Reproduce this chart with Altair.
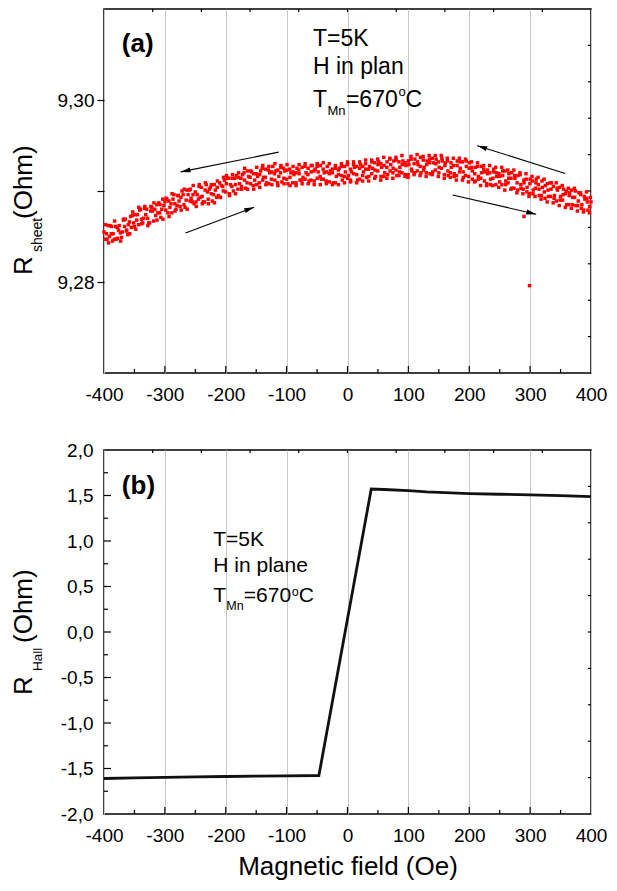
import math
import numpy as np
import pandas as pd
import altair as alt

FONT = "Liberation Sans, Arial, Helvetica, sans-serif"
W, HA, HB = 487, 364, 364
X_DOMAIN = [-400, 400]
YA_DOMAIN = [9.27, 9.31]
YB_DOMAIN = [-2.0, 2.0]

# ---------------- data: panel (a) sheet resistance, four field sweeps ----------------
field_a = np.linspace(-400, 400, 161)
field_b = np.linspace(-398, 398, 161)
field_c = np.linspace(-396, 399, 161)
field_d = np.linspace(-397.5, 397.5, 161)

r_sweep_a = [
    9.2855, 9.2847, 9.2862, 9.2853, 9.2847, 9.2862, 9.2855, 9.2869, 9.2863, 9.2860,
    9.2861, 9.2874, 9.2880, 9.2870, 9.2880, 9.2865, 9.2878, 9.2873, 9.2887, 9.2880,
    9.2888, 9.2876, 9.2886, 9.2896, 9.2884, 9.2883, 9.2896, 9.2890, 9.2901, 9.2888,
    9.2899, 9.2891, 9.2904, 9.2888, 9.2899, 9.2904, 9.2896, 9.2893, 9.2909, 9.2905,
    9.2899, 9.2914, 9.2905, 9.2914, 9.2902, 9.2914, 9.2920, 9.2909, 9.2915, 9.2906,
    9.2919, 9.2909, 9.2925, 9.2915, 9.2923, 9.2913, 9.2919, 9.2909, 9.2920, 9.2925,
    9.2913, 9.2924, 9.2909, 9.2920, 9.2923, 9.2912, 9.2927, 9.2918, 9.2912, 9.2922,
    9.2927, 9.2916, 9.2924, 9.2911, 9.2919, 9.2924, 9.2909, 9.2923, 9.2917, 9.2927,
    9.2914, 9.2924, 9.2929, 9.2918, 9.2913, 9.2927, 9.2924, 9.2916, 9.2932, 9.2923,
    9.2929, 9.2916, 9.2928, 9.2932, 9.2922, 9.2925, 9.2934, 9.2921, 9.2929, 9.2918,
    9.2933, 9.2924, 9.2920, 9.2932, 9.2937, 9.2923, 9.2929, 9.2935, 9.2921, 9.2930,
    9.2920, 9.2936, 9.2928, 9.2922, 9.2931, 9.2916, 9.2928, 9.2932, 9.2921, 9.2933,
    9.2925, 9.2913, 9.2926, 9.2916, 9.2927, 9.2911, 9.2919, 9.2907, 9.2921, 9.2916,
    9.2910, 9.2922, 9.2911, 9.2919, 9.2903, 9.2914, 9.2917, 9.2903, 9.2909, 9.2904,
    9.2913, 9.2901, 9.2913, 9.2895, 9.2904, 9.2906, 9.2894, 9.2909, 9.2895, 9.2901,
    9.2894, 9.2902, 9.2885, 9.2898, 9.2893, 9.2884, 9.2898, 9.2885, 9.2891, 9.2879, 9.2888,
]
r_sweep_b = [
    9.2847, 9.2862, 9.2853, 9.2847, 9.2860, 9.2854, 9.2869, 9.2856, 9.2866, 9.2873,
    9.2874, 9.2863, 9.2869, 9.2881, 9.2870, 9.2878, 9.2867, 9.2885, 9.2876, 9.2891,
    9.2879, 9.2889, 9.2876, 9.2886, 9.2895, 9.2893, 9.2885, 9.2901, 9.2889, 9.2896,
    9.2888, 9.2905, 9.2894, 9.2901, 9.2891, 9.2897, 9.2907, 9.2904, 9.2893, 9.2900,
    9.2908, 9.2897, 9.2914, 9.2907, 9.2915, 9.2905, 9.2912, 9.2922, 9.2908, 9.2919,
    9.2907, 9.2918, 9.2912, 9.2924, 9.2908, 9.2921, 9.2912, 9.2923, 9.2926, 9.2914,
    9.2923, 9.2915, 9.2921, 9.2909, 9.2919, 9.2926, 9.2913, 9.2925, 9.2921, 9.2911,
    9.2914, 9.2928, 9.2913, 9.2921, 9.2910, 9.2920, 9.2925, 9.2918, 9.2927, 9.2916,
    9.2929, 9.2912, 9.2919, 9.2927, 9.2925, 9.2917, 9.2930, 9.2924, 9.2919, 9.2931,
    9.2922, 9.2930, 9.2916, 9.2926, 9.2935, 9.2920, 9.2923, 9.2932, 9.2920, 9.2931,
    9.2918, 9.2935, 9.2930, 9.2922, 9.2927, 9.2934, 9.2920, 9.2931, 9.2936, 9.2923,
    9.2932, 9.2925, 9.2918, 9.2933, 9.2920, 9.2928, 9.2917, 9.2921, 9.2932, 9.2917,
    9.2916, 9.2926, 9.2919, 9.2927, 9.2914, 9.2924, 9.2908, 9.2920, 9.2914, 9.2907,
    9.2919, 9.2907, 9.2922, 9.2909, 9.2914, 9.2903, 9.2909, 9.2918, 9.2902, 9.2913,
    9.2897, 9.2911, 9.2903, 9.2907, 9.2895, 9.2899, 9.2908, 9.2894, 9.2905, 9.2889,
    9.2904, 9.2890, 9.2897, 9.2885, 9.2901, 9.2893, 9.2884, 9.2896, 9.2879, 9.2892, 9.2883,
]
r_sweep_c = [
    9.2853, 9.2850, 9.2845, 9.2861, 9.2857, 9.2849, 9.2861, 9.2852, 9.2872, 9.2865,
    9.2868, 9.2879, 9.2865, 9.2874, 9.2865, 9.2882, 9.2880, 9.2876, 9.2871, 9.2884,
    9.2891, 9.2882, 9.2891, 9.2880, 9.2889, 9.2900, 9.2882, 9.2896, 9.2892, 9.2886,
    9.2896, 9.2893, 9.2888, 9.2907, 9.2902, 9.2889, 9.2901, 9.2895, 9.2906, 9.2912,
    9.2914, 9.2907, 9.2900, 9.2917, 9.2908, 9.2918, 9.2903, 9.2916, 9.2921, 9.2912,
    9.2916, 9.2922, 9.2915, 9.2909, 9.2920, 9.2927, 9.2922, 9.2916, 9.2910, 9.2922,
    9.2908, 9.2920, 9.2918, 9.2925, 9.2912, 9.2915, 9.2920, 9.2911, 9.2928, 9.2924,
    9.2921, 9.2913, 9.2920, 9.2927, 9.2922, 9.2909, 9.2916, 9.2925, 9.2912, 9.2921,
    9.2917, 9.2921, 9.2926, 9.2912, 9.2929, 9.2921, 9.2915, 9.2927, 9.2925, 9.2916,
    9.2932, 9.2926, 9.2920, 9.2918, 9.2929, 9.2933, 9.2917, 9.2926, 9.2933, 9.2928,
    9.2929, 9.2922, 9.2935, 9.2929, 9.2920, 9.2926, 9.2933, 9.2919, 9.2931, 9.2935,
    9.2926, 9.2933, 9.2931, 9.2917, 9.2926, 9.2919, 9.2933, 9.2925, 9.2915, 9.2927,
    9.2931, 9.2922, 9.2911, 9.2913, 9.2920, 9.2921, 9.2923, 9.2913, 9.2924, 9.2920,
    9.2916, 9.2917, 9.2907, 9.2914, 9.2920, 9.2917, 9.2901, 9.2907, 9.2912, 9.2899,
    9.2908, 9.2897, 9.2909, 9.2902, 9.2911, 9.2892, 9.2901, 9.2902, 9.2892, 9.2903,
    9.2890, 9.2896, 9.2900, 9.2895, 9.2885, 9.2900, 9.2889, 9.2881, 9.2894, 9.2888, 9.2893,
]
r_sweep_d = [
    9.2863, 9.2843, 9.2861, 9.2867, 9.2848, 9.2845, 9.2868, 9.2857, 9.2853, 9.2877,
    9.2858, 9.2882, 9.2864, 9.2883, 9.2862, 9.2883, 9.2887, 9.2868, 9.2885, 9.2869,
    9.2892, 9.2872, 9.2897, 9.2878, 9.2895, 9.2879, 9.2902, 9.2880, 9.2902, 9.2906,
    9.2883, 9.2907, 9.2886, 9.2909, 9.2886, 9.2907, 9.2887, 9.2911, 9.2893, 9.2915,
    9.2917, 9.2895, 9.2918, 9.2897, 9.2920, 9.2902, 9.2925, 9.2902, 9.2922, 9.2902,
    9.2926, 9.2904, 9.2928, 9.2907, 9.2927, 9.2907, 9.2930, 9.2906, 9.2928, 9.2908,
    9.2929, 9.2906, 9.2927, 9.2906, 9.2929, 9.2908, 9.2930, 9.2908, 9.2928, 9.2907,
    9.2930, 9.2907, 9.2931, 9.2908, 9.2930, 9.2907, 9.2928, 9.2907, 9.2930, 9.2909,
    9.2932, 9.2910, 9.2932, 9.2909, 9.2932, 9.2911, 9.2934, 9.2911, 9.2934, 9.2914,
    9.2935, 9.2912, 9.2937, 9.2914, 9.2936, 9.2914, 9.2937, 9.2917, 9.2939, 9.2916,
    9.2915, 9.2938, 9.2918, 9.2940, 9.2917, 9.2938, 9.2916, 9.2939, 9.2918, 9.2939,
    9.2916, 9.2939, 9.2914, 9.2936, 9.2915, 9.2936, 9.2912, 9.2936, 9.2912, 9.2935,
    9.2910, 9.2932, 9.2910, 9.2931, 9.2906, 9.2928, 9.2906, 9.2928, 9.2906, 9.2926,
    9.2904, 9.2926, 9.2901, 9.2923, 9.2902, 9.2923, 9.2898, 9.2920, 9.2897, 9.2919,
    9.2894, 9.2916, 9.2894, 9.2915, 9.2891, 9.2913, 9.2888, 9.2909, 9.2887, 9.2909,
    9.2884, 9.2906, 9.2882, 9.2903, 9.2881, 9.2903, 9.2878, 9.2898, 9.2877, 9.2899, 9.2876,
]
outlier_field = [290, 299]
outlier_r = [9.2872, 9.2796]

# arrows of panel (a): tail -> head
arrow_x1 = [-113.2, -266.1, 357.6, 172.6]
arrow_y1 = [9.29427, 9.28539, 9.29193, 9.28956]
arrow_x2 = [-274.1, -153.4, 213.1, 310.0]
arrow_y2 = [9.29210, 9.28822, 9.29498, 9.28745]

# ---------------- data: panel (b) Hall resistance ----------------
hall_field = [-400, -350, -300, -250, -200, -150, -100, -47, 39, 60, 100, 130, 200, 250, 300, 350, 400]
hall_r = [-1.610, -1.603, -1.597, -1.592, -1.588, -1.584, -1.580, -1.577,
          1.571, 1.566, 1.553, 1.540, 1.521, 1.514, 1.507, 1.498, 1.487]

# annotation text: (text, pixel offset from line start, value, font size)
notes_a_x = -56.8
notes_a = [("T=5K", 0, 9.30592, 23), ("H in plan", 0, 9.30283, 23),
           ("T", 0, 9.29926, 23), ("Mn", 14.5, 9.29835, 13),
           ("=670", 33.0, 9.29926, 23), ("o", 85.5, 9.30043, 13), ("C", 92.5, 9.29926, 23)]
notes_b_x = -220.5
notes_b = [("T=5K", 0, 0.9443, 21), ("H in plane", 0, 0.660, 21),
           ("T", 0, 0.3246, 21), ("Mn", 13.0, 0.2404, 12.5),
           ("=670", 30.5, 0.3246, 21), ("o", 78.5, 0.399, 12.5), ("C", 85.5, 0.3246, 21)]
label_a = ("(a)", -370.7, 9.30527)
label_b = ("(b)", -370.7, 1.5158)

# tick positions
x_major = [-300, -200, -100, 0, 100, 200, 300]
x_minor = [-350, -250, -150, -50, 50, 150, 250, 350]
x_top = [-320, -240, -160, -80, 0, 80, 160, 240, 320]
ya_right = [9.274, 9.278, 9.282, 9.286, 9.290, 9.294, 9.298, 9.302, 9.306]
yb_major = [-1.5, -1.0, -0.5, 0.0, 0.5, 1.0, 1.5]
yb_minor = [-1.75, -1.25, -0.75, -0.25, 0.25, 0.75, 1.25, 1.75]
yb_right = [-1.6, -1.2, -0.8, -0.4, 0.0, 0.4, 0.8, 1.2, 1.6]

# ---------------- scales & axes ----------------
x_scale = alt.Scale(domain=X_DOMAIN, nice=False, zero=False)
ya_scale = alt.Scale(domain=YA_DOMAIN, nice=False, zero=False)
yb_scale = alt.Scale(domain=YB_DOMAIN, nice=False, zero=False)
PX2OE = (X_DOMAIN[1] - X_DOMAIN[0]) / W

x_label_expr = "(datum.value < 0 ? '-' : '') + format(abs(datum.value), 'd')"


def x_axis(title):
    kw = dict(values=list(range(-400, 401, 100)), grid=True, gridColor="#c8c8c8", gridWidth=1,
              ticks=False, domain=False, labelFontSize=19, labelPadding=12, labelFlush=False,
              labelOverlap=False, labelExpr=x_label_expr, labelColor="black", labelFont=FONT)
    if title:
        kw.update(title=title, titleFontSize=26, titleFontWeight="normal", titlePadding=8,
                  titleFont=FONT, titleColor="black")
    else:
        kw.update(title=None)
    return alt.Axis(**kw)


ya_axis = alt.Axis(values=[9.28, 9.29, 9.30], grid=False, domain=False, ticks=True, tickSize=7,
                   tickColor="black", tickWidth=1.2, labelFontSize=19, labelPadding=3,
                   labelOverlap=False, labelColor="black", labelFont=FONT, title=None,
                   labelExpr="abs(datum.value - 9.29) < 0.001 ? '' : replace(format(datum.value, '.2f'), '.', ',')")
yb_axis = alt.Axis(values=[-2.0, -1.5, -1.0, -0.5, 0.0, 0.5, 1.0, 1.5, 2.0], grid=False, domain=False,
                   ticks=False, labelFontSize=19, labelPadding=11, labelOverlap=False, labelFlush=False,
                   labelColor="black", labelFont=FONT, title=None,
                   labelExpr="(datum.value < 0 ? '-' : '') + replace(format(abs(datum.value), '.1f'), '.', ',')")

ARROW = "M0,0L0.55,2.2L-0.55,2.2Z"


def xticks(vals, length, h, top=False):
    df = pd.DataFrame({"x": vals})
    if top:
        y, y2 = alt.value(0), alt.value(length)
    else:
        y, y2 = alt.value(h), alt.value(h - length)
    return alt.Chart(df).mark_rule(color="black", strokeWidth=1.2).encode(
        x=alt.X("x:Q", scale=x_scale), y=y, y2=y2)


def yticks(vals, length, scale, right=False):
    df = pd.DataFrame({"y": vals})
    if right:
        x, x2 = alt.value(W), alt.value(W - length)
    else:
        x, x2 = alt.value(0), alt.value(length)
    return alt.Chart(df).mark_rule(color="black", strokeWidth=1.2).encode(
        y=alt.Y("y:Q", scale=scale), x=x, x2=x2)


def notes_layer(rows, anchor, scale):
    df = pd.DataFrame([(t, anchor + off * PX2OE, y, s) for t, off, y, s in rows],
                      columns=["text", "x", "y", "size"])
    return alt.Chart(df).mark_text(align="left", baseline="alphabetic", font=FONT, color="black").encode(
        x=alt.X("x:Q", scale=x_scale), y=alt.Y("y:Q", scale=scale), text="text:N",
        size=alt.Size("size:Q", scale=None, legend=None))


def label_layer(lab, scale):
    df = pd.DataFrame([lab], columns=["text", "x", "y"])
    return alt.Chart(df).mark_text(align="left", baseline="alphabetic", font=FONT, fontSize=26,
                                   fontWeight="bold", color="black").encode(
        x=alt.X("x:Q", scale=x_scale), y=alt.Y("y:Q", scale=scale), text="text:N")


def title_piece(text, px, py, size):
    return alt.Chart(pd.DataFrame({"t": [text]})).mark_text(
        angle=270, align="left", baseline="alphabetic", font=FONT, fontSize=size, color="black").encode(
        x=alt.value(px), y=alt.value(py), text="t:N")


# ---------------- panel (a) ----------------
df_a = pd.DataFrame({
    "x": list(field_a) + list(field_b) + list(field_c) + list(field_d) + outlier_field,
    "y": r_sweep_a + r_sweep_b + r_sweep_c + r_sweep_d + outlier_r,
})
scatter = alt.Chart(df_a).mark_square(size=12, color="#ff0000", opacity=1).encode(
    x=alt.X("x:Q", scale=x_scale, axis=x_axis(None)),
    y=alt.Y("y:Q", scale=ya_scale, axis=ya_axis))

angles = []
for x1, y1, x2, y2 in zip(arrow_x1, arrow_y1, arrow_x2, arrow_y2):
    dxp = (x2 - x1) / (X_DOMAIN[1] - X_DOMAIN[0]) * W
    dyp = -(y2 - y1) / (YA_DOMAIN[1] - YA_DOMAIN[0]) * HA
    angles.append(math.degrees(math.atan2(dxp, -dyp)) % 360)

shafts = alt.Chart(pd.DataFrame({"x": arrow_x1, "y": arrow_y1, "x2": arrow_x2, "y2": arrow_y2})).mark_rule(
    color="black", strokeWidth=1.1).encode(
    x=alt.X("x:Q", scale=x_scale), y=alt.Y("y:Q", scale=ya_scale), x2="x2:Q", y2="y2:Q")
heads = alt.Chart(pd.DataFrame({"x": arrow_x2, "y": arrow_y2, "ang": angles})).mark_point(
    shape=ARROW, filled=True, color="black", opacity=1, size=81, strokeWidth=0).encode(
    x=alt.X("x:Q", scale=x_scale), y=alt.Y("y:Q", scale=ya_scale),
    angle=alt.Angle("ang:Q", scale=None))

panel_a = alt.layer(
    scatter,
    xticks(x_major, 7, HA), xticks(x_minor, 4, HA), xticks(x_top, 3, HA, top=True),
    yticks(ya_right, 3, ya_scale, right=True),
    shafts, heads,
    notes_layer(notes_a, notes_a_x, ya_scale), label_layer(label_a, ya_scale),
    title_piece("R", -72, 266, 26), title_piece("sheet", -62, 243, 14), title_piece("(Ohm)", -72, 210, 26),
).properties(width=W, height=HA)

# ---------------- panel (b) ----------------
df_b = pd.DataFrame({"x": hall_field, "y": hall_r})
hall_line = alt.Chart(df_b).mark_line(color="#111111", strokeWidth=2.8).encode(
    x=alt.X("x:Q", scale=x_scale, axis=x_axis("Magnetic field (Oe)")),
    y=alt.Y("y:Q", scale=yb_scale, axis=yb_axis))

panel_b = alt.layer(
    hall_line,
    xticks(x_major, 7, HB), xticks(x_minor, 4, HB), xticks(x_top, 3, HB, top=True),
    yticks(yb_major, 7, yb_scale), yticks(yb_minor, 4, yb_scale),
    yticks(yb_right, 3, yb_scale, right=True),
    notes_layer(notes_b, notes_b_x, yb_scale), label_layer(label_b, yb_scale),
    title_piece("R", -72, 245, 26), title_piece("Hall", -62.5, 221, 13.5), title_piece("(Ohm)", -72, 193, 26),
).properties(width=W, height=HB)

chart = alt.vconcat(panel_a, panel_b, spacing=77, bounds="flush").properties(
    padding={"left": 2, "top": -1, "right": 0, "bottom": 0}
).configure_view(stroke="black", strokeWidth=1.5).configure_axis(
    labelFont=FONT, titleFont=FONT, labelColor="black", titleColor="black")

chart.save("out.html", embed_options={"renderer": "svg", "actions": False})
